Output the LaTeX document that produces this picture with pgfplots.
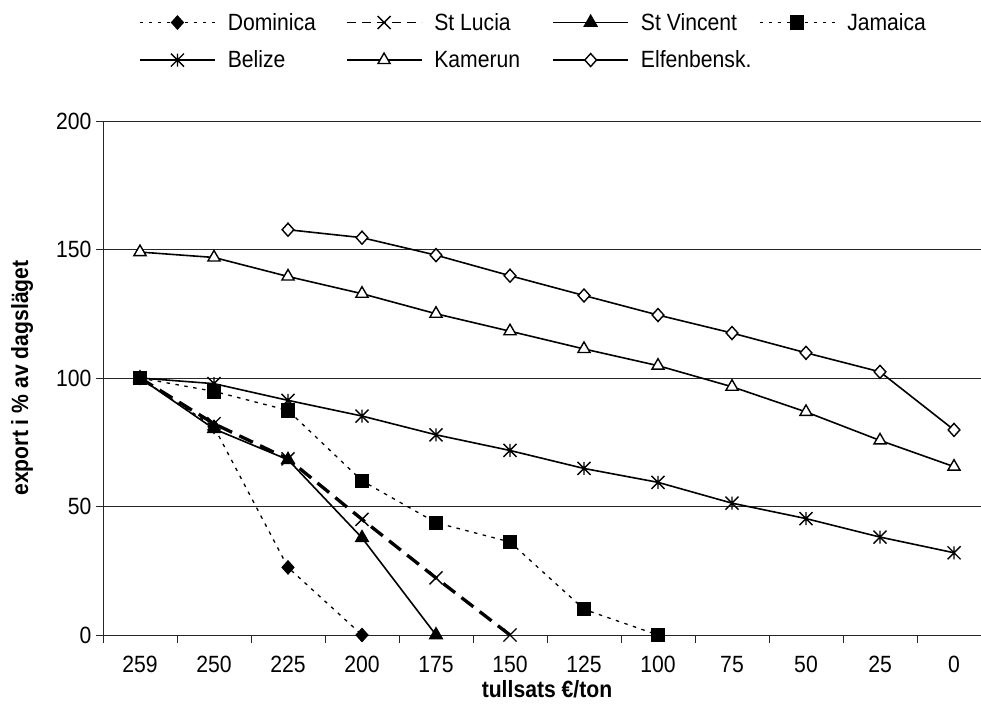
\documentclass[border=0pt]{standalone}
\usepackage{pgfplots}
\pgfplotsset{compat=1.18}
\usepackage{fontspec}
\setmainfont[FakeStretch=0.9]{Liberation Sans}
\pgfdeclareplotmark{xstar}{%
 \pgfpathmoveto{\pgfqpoint{0pt}{\pgfplotmarksize}}%
 \pgfpathlineto{\pgfqpoint{0pt}{-\pgfplotmarksize}}%
 \pgfpathmoveto{\pgfqpoint{-\pgfplotmarksize}{\pgfplotmarksize}}%
 \pgfpathlineto{\pgfqpoint{\pgfplotmarksize}{-\pgfplotmarksize}}%
 \pgfpathmoveto{\pgfqpoint{-\pgfplotmarksize}{-\pgfplotmarksize}}%
 \pgfpathlineto{\pgfqpoint{\pgfplotmarksize}{\pgfplotmarksize}}%
 \pgfusepathqstroke}
\newcommand{\lf}{\fontsize{23.5}{27}\selectfont}
\newcommand{\legent}[1]{\makebox[130pt][l]{\hspace*{12pt}#1}}
\begin{document}
\begin{tikzpicture}
\begin{axis}[
  at={(0pt,0pt)}, anchor=south west,
  scale only axis, width=888pt, height=514pt,
  xmin=-0.5, xmax=11.5, ymin=0, ymax=200,
  axis lines*=left,
  axis line style={line width=0.9pt, black!85, -},
  xtick={0,...,11},
  xticklabels={259,250,225,200,175,150,125,100,75,50,25,0},
  minor xtick={-0.5,0.5,...,11.5},
  major x tick style={draw=none},
  minor x tick style={line width=0.9pt, black!85},
  ytick={0,50,...,200},
  major y tick style={line width=0.9pt, black!85},
  tick align=outside,
  major tick length=7pt, minor tick length=8pt,
  ymajorgrids=true,
  major grid style={line width=0.9pt, black!85},
  /pgf/number format/assume math mode=true,
  tick label style={font=\lf},
  xticklabel style={yshift=-11pt},
  yticklabel style={xshift=-1pt},
  every axis y label/.style={at={(axis description cs:-0.0912,0.5)},rotate=90,anchor=center,font=\lf\bfseries},
  every axis x label/.style={at={(axis description cs:0.5,-0.105)},anchor=center,font=\lf\bfseries},
  ylabel={export i \% av dagsläget},
  xlabel={tullsats €/ton},
  legend columns=4,
  legend cell align=left,
  legend image code/.code={\draw[mark repeat=2,mark phase=2,#1] plot coordinates {(0pt,0pt) (37.5pt,0pt) (75pt,0pt)};},
  legend style={at={(axis description cs:0.0405,1.21)}, anchor=north west, draw=none, fill=none,
     inner sep=0pt, nodes={inner sep=0pt}, row sep=19pt, font=\lf},
]
\addplot[black, line width=1.3pt, dash pattern=on 3.5pt off 5.5pt, mark=diamond*, mark size=6.5pt, mark options={solid, xscale=1.2}]
 coordinates {(0,100)(1,81)(2,26.3)(3,0)};
\addlegendentry{\legent{Dominica}}
\addplot[black, line width=3.3pt, dash pattern=on 15pt off 8pt, mark=x, mark size=9.2pt, mark options={solid, line width=1.4pt},
  legend image post style={line width=1.4pt, dash pattern=on 9pt off 6pt}]
 coordinates {(0,100)(1,82.2)(2,68.5)(3,45)(4,22.2)(5,0)};
\addlegendentry{\legent{St Lucia}}
\addplot[black, line width=1.6pt, mark=triangle*, mark size=7pt, mark options={solid}]
 coordinates {(0,100)(1,80.2)(2,68.2)(3,37.8)(4,0)};
\addlegendentry{\legent{St Vincent}}
\addplot[black, line width=1.3pt, dash pattern=on 3.5pt off 5.5pt, mark=square*, mark size=6.5pt, mark options={solid}]
 coordinates {(0,100)(1,94.8)(2,87.4)(3,60)(4,43.7)(5,36.2)(6,10)(7,0)};
\addlegendentry{\legent{Jamaica}}
\addplot[black, line width=1.6pt, mark=xstar, mark size=6.5pt, mark options={solid, line width=1.4pt}]
 coordinates {(0,100)(1,97.8)(2,91.3)(3,85.2)(4,77.9)(5,71.8)(6,64.8)(7,59.4)(8,51.3)(9,45.3)(10,38.1)(11,32)};
\addlegendentry{\legent{Belize}}
\addplot[black, line width=1.6pt, mark=triangle*, mark size=7pt, mark options={solid, fill=white, line width=1.4pt}]
 coordinates {(0,149)(1,146.9)(2,139.5)(3,132.8)(4,125)(5,118.2)(6,111.3)(7,104.8)(8,96.6)(9,86.8)(10,75.7)(11,65.5)};
\addlegendentry{\legent{Kamerun}}
\addplot[black, line width=1.6pt, mark=diamond*, mark size=6.5pt, mark options={solid, fill=white, xscale=1.2, line width=1.4pt}]
 coordinates {(2,157.7)(3,154.6)(4,147.8)(5,139.8)(6,132.1)(7,124.5)(8,117.5)(9,109.8)(10,102.4)(11,79.8)};
\addlegendentry{\legent{Elfenbensk.}}
\end{axis}
\pgfresetboundingbox
\path[use as bounding box] (-103pt,-71pt) rectangle (878pt,635pt);
\end{tikzpicture}
\end{document}
